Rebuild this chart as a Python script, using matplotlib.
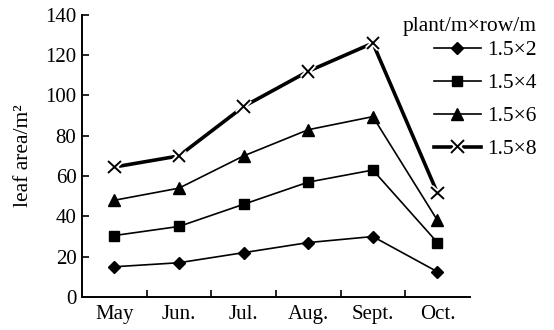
import matplotlib
matplotlib.use("Agg")
import matplotlib.pyplot as plt
import matplotlib.patheffects as pe

plt.rcParams['font.family'] = ['Liberation Serif', 'DejaVu Serif']

months = ["May", "Jun.", "Jul.", "Aug.", "Sept.", "Oct."]
s_1_5x2 = [15, 17, 22, 27, 30, 12.5]
s_1_5x4 = [30.5, 35, 46, 57, 63, 27]
s_1_5x6 = [48, 54, 70, 83, 89.5, 38]
s_1_5x8 = [64.5, 70, 94.5, 112, 126, 51.5]
series_labels = ["1.5×2", "1.5×4", "1.5×6", "1.5×8"]
y_ticks = [0, 20, 40, 60, 80, 100, 120, 140]

fig = plt.figure(figsize=(5.54, 3.30), dpi=100)
ax = fig.add_axes([0.148, 0.1, 0.700, 0.855])

x = list(range(len(months)))
halo = [pe.Stroke(linewidth=4, foreground='white'), pe.Normal()]

h1, = ax.plot(x, s_1_5x2, color='black', lw=1.2, marker='D', ms=6.5, label=series_labels[0])
h2, = ax.plot(x, s_1_5x4, color='black', lw=1.2, marker='s', ms=7, label=series_labels[1])
h3, = ax.plot(x, s_1_5x6, color='black', lw=1.2, marker='^', ms=8, label=series_labels[2])
ax.plot(x, s_1_5x8, color='black', lw=2.6, zorder=3)
ax.plot(x, s_1_5x8, ls='none', marker='x', ms=9, mew=1.4, color='black', zorder=4,
        path_effects=halo)
h4, = ax.plot([], [], color='black', lw=2.6, marker='x', ms=9, mew=1.4,
              path_effects=halo, label=series_labels[3])

ax.set_xlim(-0.5, 5.5)
ax.set_ylim(0, 140)
ax.set_yticks(y_ticks)
ax.set_xticks(x)
ax.set_xticklabels(months)
ax.set_xticks([i + 0.5 for i in range(len(months) - 1)], minor=True)
ax.tick_params(axis='x', which='major', length=0, pad=6, labelsize=15)
ax.tick_params(axis='x', which='minor', direction='in', length=5, width=1.2)
ax.tick_params(axis='y', direction='in', length=5, width=1.2, pad=4, labelsize=15)
for side in ('top', 'right'):
    ax.spines[side].set_visible(False)
for side in ('left', 'bottom'):
    ax.spines[side].set_linewidth(1.4)

ax.set_ylabel("leaf area/m²", fontsize=15.5, labelpad=9)

leg = fig.legend(handles=[h1, h2, h3, h4], title="plant/m×row/m",
                 loc='upper right', bbox_to_anchor=(0.985, 0.975),
                 frameon=False, fontsize=15.5, title_fontsize=15.5,
                 handlelength=2.2, handletextpad=0.3, labelspacing=0.6,
                 borderaxespad=0)
leg._legend_box.align = "right"
leg._legend_box.sep = 3

fig.savefig("out.png", dpi=100)
